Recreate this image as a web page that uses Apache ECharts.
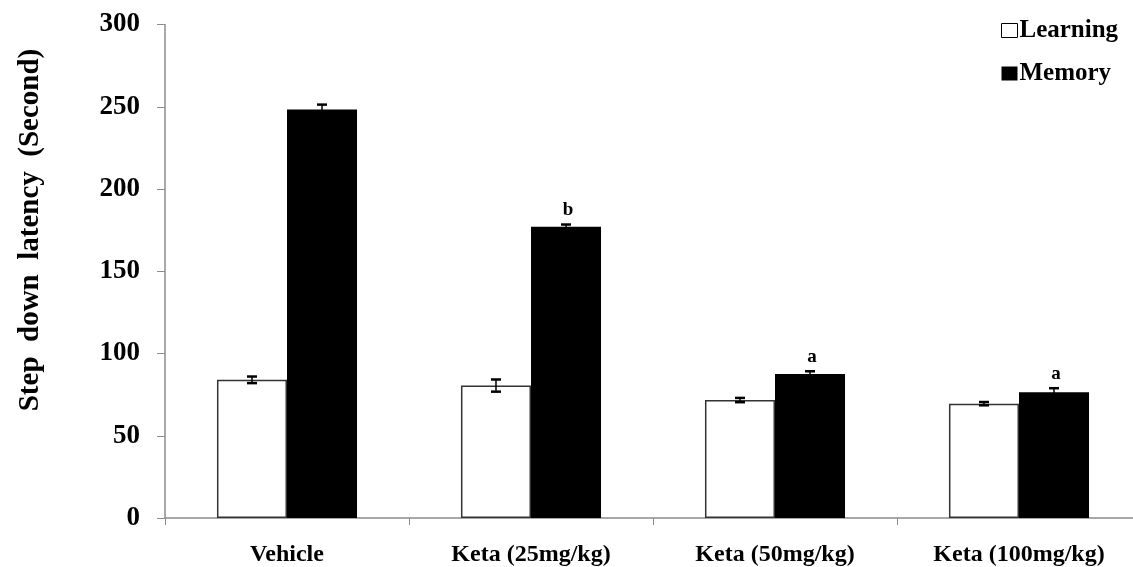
<!DOCTYPE html>
<html>
<head>
<meta charset="utf-8">
<script src="https://cdn.jsdelivr.net/npm/echarts@6/dist/echarts.min.js"></script>
<style>
  html, body { margin: 0; padding: 0; background: #fff; overflow: hidden; }
  /* the plot runs slightly past the right edge of the page, as the axis line does */
  #chart { width: 1141px; height: 567px; }
</style>
</head>
<body>
<div id="chart"></div>
<script>
// Groups tested in the step-down passive avoidance task
const categories = ['Vehicle', 'Keta (25mg/kg)', 'Keta (50mg/kg)', 'Keta (100mg/kg)'];
// Mean latency (s) and SEM for each phase
const learning = [84, 80.5, 71.7, 69.5];
const learningErr = [2, 3.7, 1.3, 1];
const memory = [248.3, 177, 87.5, 76.5];
const memoryErr = [3, 1.4, 1.7, 2.4];
// Significance letters over the memory bars
const memoryMarks = ['', 'b', 'a', 'a'];
const yTicks = [0, 50, 100, 150, 200, 250, 300];

const FONT = '"Liberation Serif", "Times New Roman", serif';
const AXIS_COLOR = '#8c8c8c';
const BAR_SHARE = 0.287; // bar width as a share of one category band

const chart = echarts.init(document.getElementById('chart'));

// Error bar renderer; side picks the left (-1) or right (+1) bar of the pair
function errorRenderer(values, errs, marks, side) {
  return function (params, api) {
    const i = params.dataIndex;
    const bandWidth = api.size([1, 0])[0];
    const barW = bandWidth * BAR_SHARE;
    const centerX = api.coord([i, 0])[0] + side * barW / 2;
    const top = api.coord([i, values[i] + errs[i]]);
    const bot = api.coord([i, values[i] - errs[i]]);
    const cap = 5;
    const style = { stroke: '#000', lineWidth: 2.5 };
    const children = [
      { type: 'line', shape: { x1: centerX, y1: top[1], x2: centerX, y2: bot[1] }, style: { stroke: '#000', lineWidth: 1.5 } },
      { type: 'line', shape: { x1: centerX - cap, y1: top[1], x2: centerX + cap, y2: top[1] }, style },
      { type: 'line', shape: { x1: centerX - cap, y1: bot[1], x2: centerX + cap, y2: bot[1] }, style }
    ];
    if (marks && marks[i]) {
      children.push({
        type: 'text',
        style: {
          x: centerX + 2, y: top[1] - 5, text: marks[i],
          align: 'center', verticalAlign: 'bottom',
          font: 'bold 19px ' + FONT, fill: '#000'
        }
      });
    }
    return { type: 'group', children };
  };
}

chart.setOption({
  animation: false,
  backgroundColor: '#fff',
  grid: { left: 165, top: 24.5, bottom: 49, right: 0 },
  legend: {
    orient: 'vertical',
    left: 996,
    top: 13,
    itemWidth: 16,
    itemHeight: 14,
    itemGap: 18,
    icon: 'rect',
    textStyle: { fontFamily: FONT, fontWeight: 'bold', fontSize: 25, color: '#000', padding: [0, 0, 0, -3] },
    data: [
      { name: 'Learning', itemStyle: { color: '#fff', borderColor: '#000', borderWidth: 1 } },
      { name: 'Memory', itemStyle: { color: '#000' } }
    ]
  },
  xAxis: {
    type: 'category',
    data: categories,
    axisLine: { lineStyle: { color: AXIS_COLOR, width: 1.5 } },
    axisTick: { show: true, length: 7, lineStyle: { color: AXIS_COLOR } },
    axisLabel: { fontFamily: FONT, fontWeight: 'bold', fontSize: 24, color: '#000', margin: 25 }
  },
  yAxis: {
    type: 'value',
    min: yTicks[0],
    max: yTicks[yTicks.length - 1],
    interval: 50,
    axisLine: { show: true, lineStyle: { color: AXIS_COLOR, width: 1.5 } },
    axisTick: { show: true, length: 8, lineStyle: { color: AXIS_COLOR } },
    splitLine: { show: false },
    axisLabel: { fontFamily: FONT, fontWeight: 'bold', fontSize: 27, color: '#000', margin: 25 }
  },
  graphic: [{
    type: 'text',
    x: 31, y: 230,
    rotation: Math.PI / 2,
    style: {
      text: 'Step  down  latency  (Second)',
      font: 'bold 29px ' + FONT,
      fill: '#000',
      align: 'center',
      verticalAlign: 'middle'
    }
  }],
  series: [
    {
      name: 'Learning',
      type: 'bar',
      data: learning,
      barGap: '0%',
      barCategoryGap: ((1 - 2 * BAR_SHARE) * 100).toFixed(1) + '%',
      itemStyle: { color: '#fff', borderColor: '#333', borderWidth: 1.5 }
    },
    {
      name: 'Memory',
      type: 'bar',
      data: memory,
      itemStyle: { color: '#000' }
    },
    {
      type: 'custom',
      data: learning.map((v, i) => [i, v]),
      renderItem: errorRenderer(learning, learningErr, null, -1),
      z: 10
    },
    {
      type: 'custom',
      data: memory.map((v, i) => [i, v]),
      renderItem: errorRenderer(memory, memoryErr, memoryMarks, 1),
      z: 10
    }
  ]
});
</script>
</body>
</html>
